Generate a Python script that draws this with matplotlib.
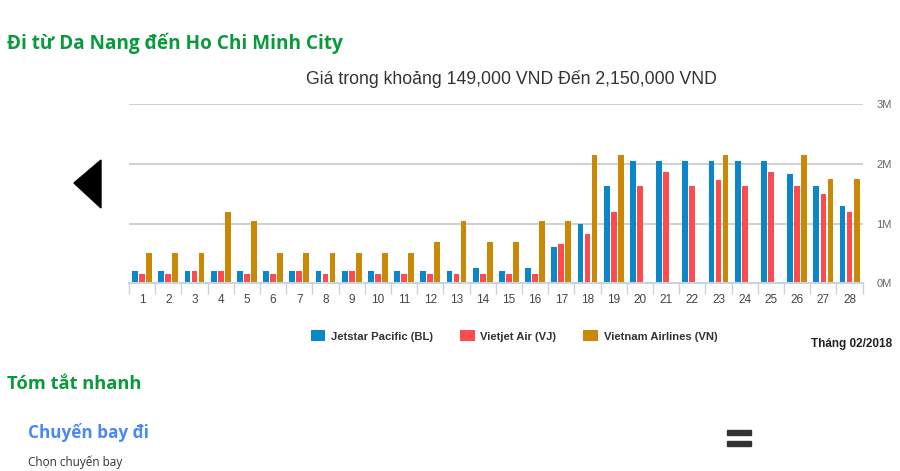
import matplotlib
matplotlib.use("Agg")
import matplotlib.pyplot as plt
import numpy as np
from matplotlib.patches import Polygon, Rectangle

# ngày trong tháng 02/2018
days = list(range(1, 29))

# giá vé (triệu VND)
jetstar = [0.20, 0.20, 0.20, 0.20, 0.20, 0.20, 0.20, 0.20, 0.20, 0.20,
           0.20, 0.20, 0.20, 0.26, 0.20, 0.26, 0.61, 1.00, 1.62, 2.05,
           2.05, 2.05, 2.05, 2.05, 2.05, 1.83, 1.62, 1.29]
vietjet = [0.149, 0.149, 0.20, 0.20, 0.149, 0.149, 0.20, 0.149, 0.20, 0.149,
           0.149, 0.149, 0.149, 0.149, 0.149, 0.149, 0.65, 0.83, 1.19, 1.62,
           1.87, 1.62, 1.73, 1.62, 1.87, 1.62, 1.49, 1.19]
vietnam_air = [0.50, 0.50, 0.50, 1.20, 1.05, 0.50, 0.50, 0.50, 0.50, 0.50,
               0.50, 0.69, 1.05, 0.69, 0.69, 1.05, 1.05, 2.15, 2.15, 0,
               0, 0, 2.15, 0, 0, 2.15, 1.75, 1.75]

series = [
    ("Jetstar Pacific (BL)", jetstar, "#0a86c9"),
    ("Vietjet Air (VJ)", vietjet, "#fd4b4e"),
    ("Vietnam Airlines (VN)", vietnam_air, "#c98806"),
]
y_ticks = [0, 1, 2, 3]
y_labels = ["0M", "1M", "2M", "3M"]

plt.rcParams["font.family"] = ["Liberation Sans", "DejaVu Sans"]
HEAD = ["Open Sans", "DejaVu Sans"]

fig = plt.figure(figsize=(9, 4.71), dpi=100)
W, H = 900, 471


def fx(px):
    return px / W


def fy(py):
    return 1 - py / H


ax = fig.add_axes([fx(129), fy(283.3), fx(862.7 - 129), (283.3 - 104) / H])

x = np.arange(len(days))
step, width = 0.268, 0.22
for i, (name, vals, col) in enumerate(series):
    ax.bar(x + (i - 1) * step, vals, width=width, color=col, label=name,
           edgecolor="none", zorder=3)

ax.set_xlim(-0.5, len(days) - 0.5)
ax.set_ylim(0, 3)
ax.set_yticks(y_ticks)
ax.set_yticklabels(y_labels)
ax.yaxis.tick_right()
ax.tick_params(axis="y", length=0, pad=10, labelsize=8, labelcolor="#666666")
ax.grid(axis="y", color="#cccccc", linewidth=1.3, zorder=0)

ax.set_xticks(x)
ax.set_xticklabels([str(d) for d in days])
ax.set_xticks(np.arange(len(days) + 1) - 0.5, minor=True)
ax.tick_params(axis="x", which="major", length=0, pad=8, labelsize=8.5,
               labelcolor="#444444")
ax.tick_params(axis="x", which="minor", length=8, width=1, color="#c8d3e0")

for s in ["top", "right", "left"]:
    ax.spines[s].set_visible(False)
ax.spines["bottom"].set_color("#c8d3e0")
ax.spines["bottom"].set_linewidth(1.5)
ax.spines["bottom"].set_zorder(4)

leg = ax.legend(loc="center", bbox_to_anchor=(fx(514), fy(336)),
                bbox_transform=fig.transFigure, ncol=3, frameon=False,
                handlelength=1.3, handleheight=1.1, handletextpad=0.5,
                columnspacing=2.4, prop={"size": 8.1, "weight": "bold"})
for t in leg.get_texts():
    t.set_color("#333333")

# tiêu đề biểu đồ
fig.text(fx(511), fy(79), "Giá trong khoảng 149,000 VND Đến 2,150,000 VND",
         ha="center", va="center", fontsize=12.7, color="#333333")
fig.text(fx(892), fy(344), "Tháng 02/2018", ha="right", va="center",
         fontsize=8.5, fontweight="bold", color="#222222")

# phần tiêu đề trang
fig.text(fx(7), fy(43), "Đi từ Da Nang đến Ho Chi Minh City", ha="left",
         va="center", fontsize=13.7, fontweight="bold", color="#0a9a3c",
         family=HEAD)
fig.text(fx(7), fy(384), "Tóm tắt nhanh", ha="left", va="center",
         fontsize=13.2, fontweight="bold", color="#0a9a3c", family=HEAD)
fig.text(fx(28), fy(433), "Chuyến bay đi", ha="left", va="center",
         fontsize=12.3, fontweight="bold", color="#4a8af0", family=HEAD)
fig.text(fx(28), fy(462), "Chọn chuyến bay", ha="left", va="center",
         fontsize=8.5, color="#333333", family=HEAD)

# mũi tên trái
fig.patches.append(Polygon([(fx(74), fy(183)), (fx(101), fy(160)),
                            (fx(101), fy(208))], closed=True,
                           transform=fig.transFigure, color="black"))
# dấu "="
for top in (430, 441):
    fig.patches.append(Rectangle((fx(727), fy(top + 5)), fx(24), 5 / H,
                                 transform=fig.transFigure, color="#333333"))

fig.savefig("out.png", dpi=100)
